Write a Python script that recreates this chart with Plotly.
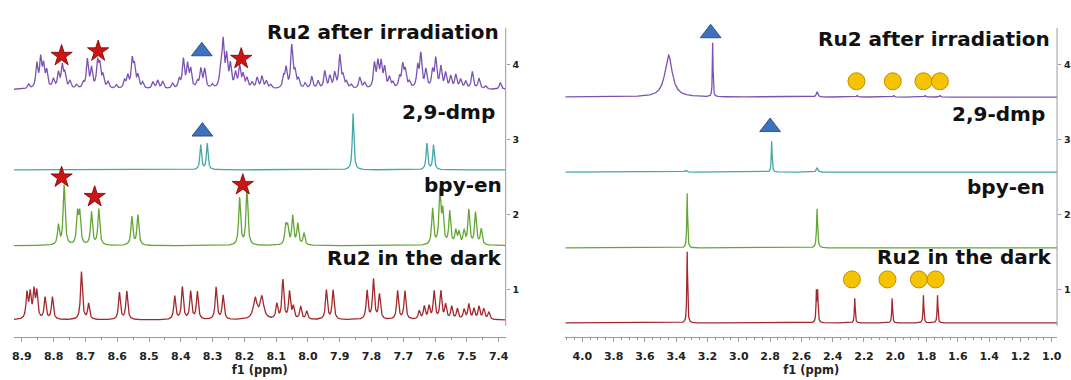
import numpy as np
import plotly.graph_objects as go

W, H = 1071, 380

# ---------------- Left panel (aromatic region 8.9 - 7.4 ppm) ----------------
# peak positions (ppm), heights (axis units above baseline), half widths (ppm)
dark_ar_ppm = [8.884, 8.874, 8.862, 8.853, 8.827, 8.804, 8.7125, 8.69, 8.593, 8.57,
               8.419, 8.395, 8.369, 8.348, 8.289, 8.267, 8.166, 8.145, 8.098, 8.079,
               8.058, 8.046, 8.023, 8.004, 7.942, 7.921, 7.814, 7.794, 7.775, 7.718,
               7.695, 7.65, 7.634, 7.619, 7.603, 7.582, 7.567, 7.548, 7.530, 7.509,
               7.494, 7.478, 7.462, 7.447, 7.431]
dark_ar_h = [0.34, 0.33, 0.36, 0.35, 0.29, 0.30, 0.64, 0.21, 0.36, 0.38,
             0.31, 0.43, 0.37, 0.37, 0.43, 0.32, 0.27, 0.29, 0.20, 0.52,
             0.36, 0.16, 0.17, 0.11, 0.39, 0.39, 0.38, 0.53, 0.33, 0.38,
             0.38, 0.11, 0.17, 0.17, 0.37, 0.37, 0.19, 0.17, 0.14, 0.13,
             0.20, 0.14, 0.17, 0.14, 0.10]
dark_ar_w = [0.0035] * 16 + [0.007, 0.007] + [0.0035] * 27

bpy_ar_ppm = [8.785, 8.767, 8.725, 8.718, 8.681, 8.658, 8.554, 8.535, 8.215, 8.192,
              8.070, 8.064, 8.048, 8.032, 8.0125, 7.608, 7.585, 7.576, 7.554, 7.535,
              7.525, 7.509, 7.494, 7.473, 7.455]
bpy_ar_h = [0.26, 0.80, 0.40, 0.40, 0.44, 0.48, 0.38, 0.40, 0.63, 0.74,
            0.24, 0.22, 0.38, 0.28, 0.16, 0.48, 0.70, 0.42, 0.44, 0.18,
            0.16, 0.18, 0.46, 0.43, 0.21]
bpy_ar_w = [0.0035] * 25

dmp_ar_ppm = [8.3375, 8.317, 7.858, 7.626, 7.605]
dmp_ar_h = [0.33, 0.35, 0.75, 0.35, 0.33]
dmp_ar_w = [0.003] * 5

irr_ar_ppm = [8.879, 8.853, 8.841, 8.832, 8.822, 8.801, 8.785, 8.773, 8.765, 8.749,
              8.728, 8.707, 8.694, 8.681, 8.662, 8.655, 8.645, 8.629, 8.603, 8.577,
              8.567, 8.553, 8.546, 8.535, 8.520, 8.488, 8.473, 8.457, 8.426, 8.405,
              8.392, 8.379, 8.369, 8.348, 8.337, 8.325, 8.301, 8.275, 8.267, 8.256,
              8.244, 8.228, 8.215, 8.204, 8.192, 8.176, 8.160, 8.145, 8.131, 8.117,
              8.077, 8.069, 8.051, 8.041, 8.030, 8.009, 7.988, 7.968, 7.947, 7.931,
              7.916, 7.900, 7.890, 7.879, 7.864, 7.837, 7.822, 7.791, 7.780, 7.770,
              7.759, 7.744, 7.733, 7.712, 7.702, 7.694, 7.681, 7.655, 7.645, 7.629,
              7.608, 7.598, 7.582, 7.567, 7.551, 7.535, 7.520, 7.504, 7.483, 7.462,
              7.441, 7.395]
irr_ar_h = [0.06, 0.32, 0.38, 0.28, 0.22, 0.12, 0.20, 0.29, 0.18, 0.10,
            0.05, 0.07, 0.38, 0.26, 0.33, 0.28, 0.16, 0.09, 0.05, 0.10,
            0.16, 0.36, 0.26, 0.16, 0.08, 0.09, 0.11, 0.10, 0.07, 0.12,
            0.38, 0.30, 0.24, 0.08, 0.25, 0.25, 0.05, 0.22, 0.60, 0.40,
            0.30, 0.19, 0.29, 0.17, 0.13, 0.08, 0.14, 0.16, 0.10, 0.05,
            0.14, 0.26, 0.56, 0.20, 0.12, 0.07, 0.16, 0.10, 0.23, 0.16,
            0.20, 0.43, 0.15, 0.08, 0.05, 0.15, 0.08, 0.32, 0.32, 0.32,
            0.26, 0.14, 0.07, 0.14, 0.29, 0.22, 0.08, 0.28, 0.44, 0.24,
            0.22, 0.38, 0.28, 0.20, 0.16, 0.18, 0.12, 0.10, 0.23, 0.14,
            0.04, 0.09]
irr_ar_w = [0.0038] * len(irr_ar_ppm)

# ---------------- Right panel (aliphatic region 4.0 - 1.0 ppm) ----------------
dark_al_ppm = [3.33, 2.504, 2.496, 2.259, 2.02, 1.82, 1.73]
dark_al_h = [0.95, 0.40, 0.40, 0.33, 0.33, 0.37, 0.37]
dark_al_w = [0.003] * 7

bpy_al_ppm = [3.33, 2.50]
bpy_al_h = [0.73, 0.52]
bpy_al_w = [0.003, 0.004]

dmp_al_ppm = [3.34, 2.79, 2.50]
dmp_al_h = [0.025, 0.41, 0.055]
dmp_al_w = [0.008, 0.003, 0.006]

irr_al_ppm = [3.449, 3.167, 2.50, 2.244, 2.010, 1.809, 1.715]
irr_al_h = [0.56, 0.72, 0.07, 0.02, 0.02, 0.02, 0.02]
irr_al_w = [0.028, 0.0025, 0.006, 0.004, 0.004, 0.004, 0.004]

# stacking offsets (baselines) of each spectrum
left_base = {"dark": 0.60, "bpy": 1.59, "dmp": 2.60, "irr": 3.67}
right_base = {"dark": 0.56, "bpy": 1.56, "dmp": 2.57, "irr": 3.57}

# tick labels
left_ticks = [8.9, 8.8, 8.7, 8.6, 8.5, 8.4, 8.3, 8.2, 8.1, 8.0, 7.9, 7.8, 7.7, 7.6, 7.5, 7.4]
right_ticks = [4.0, 3.8, 3.6, 3.4, 3.2, 3.0, 2.8, 2.6, 2.4, 2.2, 2.0, 1.8, 1.6, 1.4, 1.2, 1.0]
y_ticks = [1, 2, 3, 4]

# annotation symbols
star_left_ppm = [8.775, 8.660, 8.210, 8.775, 8.671, 8.205]
star_left_y = [4.12, 4.18, 4.08, 2.50, 2.24, 2.40]
tri_left_ppm = [8.334, 8.332]
tri_left_y = [4.18, 3.11]
tri_right_ppm = [3.18, 2.80]
tri_right_y = [4.42, 3.17]
ball_right_ppm = [2.248, 2.016, 1.82, 1.715, 2.277, 2.05, 1.849, 1.742]
ball_right_y = [3.78, 3.78, 3.78, 3.78, 1.14, 1.14, 1.14, 1.14]

labels = ["Ru2 after irradiation", "2,9-dmp", "bpy-en", "Ru2 in the dark"]

COL = {"irr": "#7b52b3", "dmp": "#45a7a8", "bpy": "#64a636", "dark": "#a3282c"}

L_RANGE = [8.925, 7.378]
R_RANGE = [4.109, 0.966]


def spectrum(x, ppm, h, w):
    x = np.asarray(x)[:, None]
    p = np.asarray(ppm)[None, :]
    hh = np.asarray(h)[None, :]
    ww = np.asarray(w)[None, :]
    return (hh * ww ** 2 / ((x - p) ** 2 + ww ** 2)).sum(axis=1)


xl = np.linspace(L_RANGE[0], L_RANGE[1], 4000)
xr = np.linspace(R_RANGE[0], R_RANGE[1], 7000)

fig = go.Figure()

left_sets = [("dark", dark_ar_ppm, dark_ar_h, dark_ar_w), ("bpy", bpy_ar_ppm, bpy_ar_h, bpy_ar_w),
             ("dmp", dmp_ar_ppm, dmp_ar_h, dmp_ar_w), ("irr", irr_ar_ppm, irr_ar_h, irr_ar_w)]
right_sets = [("dark", dark_al_ppm, dark_al_h, dark_al_w), ("bpy", bpy_al_ppm, bpy_al_h, bpy_al_w),
              ("dmp", dmp_al_ppm, dmp_al_h, dmp_al_w), ("irr", irr_al_ppm, irr_al_h, irr_al_w)]

for key, p, h, w in left_sets:
    fig.add_trace(go.Scatter(x=xl, y=left_base[key] + spectrum(xl, p, h, w), mode="lines",
                             line=dict(color=COL[key], width=1.3), xaxis="x", yaxis="y",
                             hoverinfo="skip", showlegend=False))
for key, p, h, w in right_sets:
    fig.add_trace(go.Scatter(x=xr, y=right_base[key] + spectrum(xr, p, h, w), mode="lines",
                             line=dict(color=COL[key], width=1.3), xaxis="x2", yaxis="y2",
                             hoverinfo="skip", showlegend=False))

# markers
fig.add_trace(go.Scatter(x=star_left_ppm, y=star_left_y, mode="markers", xaxis="x", yaxis="y",
                         marker=dict(symbol="star", size=16, color="#cc1414",
                                     line=dict(color="#7a0000", width=0.8)),
                         cliponaxis=False, hoverinfo="skip", showlegend=False))
fig.add_trace(go.Scatter(x=tri_left_ppm, y=tri_left_y, mode="markers", xaxis="x", yaxis="y",
                         marker=dict(symbol="triangle-up", size=18, color="#3f72bd",
                                     line=dict(color="#1f3d70", width=0.8)),
                         cliponaxis=False, hoverinfo="skip", showlegend=False))
fig.add_trace(go.Scatter(x=tri_right_ppm, y=tri_right_y, mode="markers", xaxis="x2", yaxis="y2",
                         marker=dict(symbol="triangle-up", size=18, color="#3f72bd",
                                     line=dict(color="#1f3d70", width=0.8)),
                         cliponaxis=False, hoverinfo="skip", showlegend=False))
fig.add_trace(go.Scatter(x=ball_right_ppm, y=ball_right_y, mode="markers", xaxis="x2", yaxis="y2",
                         marker=dict(symbol="circle", size=17, color="#f5c400",
                                     line=dict(color="#c48a00", width=1)),
                         cliponaxis=False, hoverinfo="skip", showlegend=False))

FONT = "DejaVu Sans"
tickfont = dict(family=FONT, size=11, color="#222", weight="bold")
ydom = [1 - 337 / H, 1 - 28 / H]

def xaxis_cfg(dom, rng, ticks, anchor):
    return dict(domain=dom, range=rng, anchor=anchor, tickmode="array", tickvals=ticks,
                ticktext=[f"{t:.1f}" for t in ticks], showline=True, linecolor="#9a9a9a",
                linewidth=1, ticks="outside", ticklen=4, tickcolor="#9a9a9a", tickfont=tickfont,
                ticklabelstandoff=5,
                minor=dict(tickmode="linear", tick0=0, dtick=0.05, ticks="outside", ticklen=2,
                           tickcolor="#9a9a9a"),
                showgrid=False, zeroline=False,
                title=dict(text="f1 (ppm)", font=dict(family=FONT, size=11.5, color="#222", weight="bold"),
                           standoff=3))

def yaxis_cfg(anchor):
    return dict(domain=ydom, range=[0.373, 4.49], anchor=anchor, side="right", tickmode="array",
                tickvals=y_ticks, ticktext=[str(t) for t in y_ticks], showline=False,
                ticks="outside", ticklen=3, tickcolor="#9a9a9a", tickfont=dict(family=FONT, size=9.5,
                color="#222", weight="bold"), showgrid=False, zeroline=False, ticklabelstandoff=1)

annotations = []
left_label_pos = [(502, 32), (498, 112), (505, 185), (505, 258)]
right_label_pos = [(1057, 39), (1052, 114), (1052, 187), (1059, 257)]
for txt, (px, py) in zip(labels, left_label_pos):
    annotations.append(dict(text=txt, x=px / W, y=1 - py / H, xref="paper", yref="paper",
                            xanchor="right", yanchor="middle", showarrow=False,
                            font=dict(family=FONT, size=20, color="#111", weight="bold")))
for txt, (px, py) in zip(labels, right_label_pos):
    annotations.append(dict(text=txt, x=px / W, y=1 - py / H, xref="paper", yref="paper",
                            xanchor="right", yanchor="middle", showarrow=False,
                            font=dict(family=FONT, size=20, color="#111", weight="bold")))

shapes = [
    dict(type="line", xref="x domain", yref="y", x0=1, x1=1, y0=0.52, y1=4.49,
         line=dict(color="#9a9a9a", width=1)),
    dict(type="line", xref="x2 domain", yref="y2", x0=1, x1=1, y0=0.52, y1=4.49,
         line=dict(color="#9a9a9a", width=1)),
]

fig.update_layout(
    width=W, height=H, margin=dict(l=0, r=0, t=0, b=0),
    paper_bgcolor="white", plot_bgcolor="white",
    xaxis=xaxis_cfg([12 / W, 507 / W], L_RANGE, left_ticks, "y"),
    yaxis=yaxis_cfg("x"),
    xaxis2=xaxis_cfg([567 / W, 1062 / W], R_RANGE, right_ticks, "y2"),
    yaxis2=yaxis_cfg("x2"),
    annotations=annotations, shapes=shapes, showlegend=False,
)

fig.write_html("out.html")
